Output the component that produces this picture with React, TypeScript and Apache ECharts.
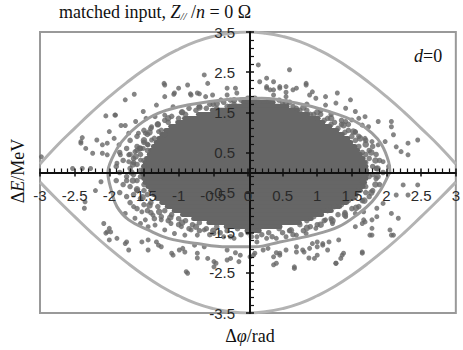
import React, { useEffect, useRef } from 'react';
import * as echarts from 'echarts';

// Separatrix
const separatrixX = [-3, -2.75, -2.5, -2.25, -2, -1.75, -1.5, -1.25, -1, -0.75, -0.5, -0.25, 0, 0.25, 0.5, 0.75, 1, 1.25, 1.5, 1.75, 2, 2.25, 2.5, 2.75, 3];
const separatrixUpper = [0.21, 0.68, 1.1, 1.51, 1.89, 2.24, 2.56, 2.84, 3.07, 3.26, 3.39, 3.47, 3.5, 3.47, 3.39, 3.26, 3.07, 2.84, 2.56, 2.24, 1.89, 1.51, 1.1, 0.68, 0.21];
const separatrixLower = [-0.24, -0.68, -1.1, -1.51, -1.89, -2.24, -2.56, -2.84, -3.07, -3.26, -3.39, -3.47, -3.5, -3.47, -3.39, -3.26, -3.07, -2.84, -2.56, -2.24, -1.89, -1.51, -1.1, -0.68, -0.24];

// Matched ellipse (ordered around the loop)
const ellipseLoop: [number, number][] = [
  [2.05, 0.0], [2.03, 0.27], [1.93, 0.69], [1.79, 0.98], [1.55, 1.27], [1.17, 1.52], [0.7, 1.73], [0.2, 1.85],
  [-0.3, 1.82], [-0.87, 1.68], [-1.29, 1.48], [-1.58, 1.18], [-1.82, 0.77], [-1.96, 0.35], [-2.02, 0.0],
  [-1.97, -0.45], [-1.89, -0.85], [-1.72, -1.18], [-1.44, -1.43], [-1.15, -1.64], [-0.73, -1.77], [-0.3, -1.85],
  [0.1, -1.85], [0.46, -1.73], [0.93, -1.56], [1.31, -1.35], [1.6, -1.02], [1.79, -0.73], [1.93, -0.39], [2.03, -0.06], [2.05, 0.0],
];

// Dense particle core: [dE, dPhi from, dPhi to]
const coreRows: [number, number, number][] = [
  [1.75, -0.1, 0.4], [1.65, -0.3, 0.6], [1.55, -0.55, 0.75], [1.45, -0.75, 0.9], [1.35, -0.95, 1.05],
  [1.25, -1.05, 1.12], [1.15, -1.15, 1.22], [1.05, -1.22, 1.32], [0.95, -1.28, 1.4], [0.85, -1.32, 1.48],
  [0.75, -1.36, 1.52], [0.65, -1.4, 1.58], [0.55, -1.44, 1.62], [0.45, -1.46, 1.66], [0.35, -1.5, 1.7],
  [0.25, -1.52, 1.72], [0.15, -1.54, 1.74], [0.05, -1.55, 1.75], [-0.05, -1.55, 1.75], [-0.15, -1.54, 1.74],
  [-0.25, -1.52, 1.72], [-0.35, -1.48, 1.7], [-0.45, -1.44, 1.66], [-0.55, -1.4, 1.6], [-0.65, -1.35, 1.55],
  [-0.75, -1.28, 1.46], [-0.85, -1.2, 1.36], [-0.95, -1.1, 1.24], [-1.05, -0.98, 1.1], [-1.15, -0.82, 0.95],
  [-1.25, -0.6, 0.78], [-1.35, -0.35, 0.5], [-1.45, -0.05, 0.2],
];

// Particles hugging the edge of the core
const rimParticles: [number, number][] = [
  [-1.68, 0.0], [-1.66, 0.2], [-1.62, 0.4], [-1.56, 0.6], [-1.5, 0.8], [-1.42, 1.0], [-1.3, 1.2], [-1.15, 1.35],
  [-0.95, 1.5], [-0.7, 1.62], [-0.45, 1.72], [-0.2, 1.8], [0.55, 1.75], [0.8, 1.62], [1.0, 1.5], [1.2, 1.35],
  [1.38, 1.18], [1.52, 1.02], [1.62, 0.85], [1.7, 0.7], [1.78, 0.5], [1.84, 0.3], [1.87, 0.1], [1.87, -0.1],
  [1.84, -0.3], [1.78, -0.5], [1.68, -0.7], [1.56, -0.88], [1.4, -1.05], [1.22, -1.2], [1.05, -1.3], [0.85, -1.38],
  [0.62, -1.44], [-0.5, -1.45], [-0.75, -1.35], [-0.95, -1.25], [-1.12, -1.12], [-1.28, -0.98], [-1.42, -0.82],
  [-1.52, -0.62], [-1.6, -0.42], [-1.66, -0.2],
];

// Particles on the fringe of the core
const edgeParticles: [number, number][] = [
  [-1.3, 1.2], [-1.2, 1.3], [-1.1, 1.4], [-0.95, 1.5], [-0.85, 1.6], [-0.7, 1.65], [-0.55, 1.7], [-0.45, 1.6], [-0.35, 1.75],
  [-0.2, 1.7], [-0.1, 1.8], [0.0, 1.85], [0.15, 1.75], [0.3, 1.8], [0.5, 1.75], [0.65, 1.65], [0.75, 1.55], [0.9, 1.45],
  [1.0, 1.35], [1.1, 1.3], [1.2, 1.2], [1.3, 1.1], [1.4, 1.0], [1.5, 0.9], [-1.4, 1.1], [-1.45, 0.95], [-1.35, 0.85],
  [-1.5, 0.75], [-1.6, 0.65], [-1.45, 0.55], [-1.55, 0.45], [-1.65, 0.35], [-1.5, 0.3], [-1.6, 0.2], [-1.7, 0.1],
  [-1.55, 0.05], [-1.65, -0.05], [-1.75, -0.1], [-1.6, -0.2], [-1.5, -0.3], [-1.7, -0.35], [-1.6, -0.45], [-1.45, -0.55],
  [-1.55, -0.65], [-1.4, -0.75], [-1.3, -0.85], [-1.2, -0.95], [-1.1, -1.05], [-1.0, -1.15], [-0.9, -1.2], [-0.8, -1.3],
  [-0.7, -1.25], [-0.6, -1.4], [-0.45, -1.35], [-0.3, -1.45], [-0.15, -1.4], [0.0, -1.5], [0.15, -1.45], [0.3, -1.5],
  [0.45, -1.4], [0.6, -1.45], [0.75, -1.3], [0.85, -1.2], [0.95, -1.1], [1.05, -1.0], [1.15, -0.95], [1.25, -0.85],
  [1.35, -0.8], [1.45, -0.7], [1.55, -0.6], [1.6, -0.45], [1.7, -0.35], [1.65, -0.2], [1.75, -0.1], [1.7, 0.05],
  [1.8, 0.15], [1.7, 0.25], [1.75, 0.35], [1.65, 0.5], [1.75, 0.55], [1.6, 0.65], [1.55, 0.8], [1.45, 1.2], [1.35, 1.3],
  [1.2, 1.45], [1.05, 1.55], [0.85, 1.7], [-1.25, 1.05], [-1.2, 0.95],
  [-1.5, 1.05], [-1.6, 0.9], [-1.7, 0.8], [-1.75, 0.6], [-1.85, 0.5], [-1.8, 0.3], [-1.9, 0.15], [-1.85, 0.0],
  [-1.9, -0.2], [-1.8, -0.3], [-1.85, -0.5], [-1.75, -0.6], [-1.7, -0.75], [-1.6, -0.9], [-1.5, -0.8], [-1.4, -1.0],
  [-1.5, 0.15], [-1.55, -0.1], [-1.5, -0.45], [-1.55, 0.6], [-1.45, 0.7], [-1.6, 0.55], [-1.7, 0.45], [-1.65, 0.25],
  [-1.75, -0.2], [-1.65, -0.55], [-1.45, -0.95],
  [-1.15, 1.25], [-1.0, 1.35], [-0.9, 1.45], [-0.75, 1.55], [-0.6, 1.6], [-0.5, 1.7], [-0.3, 1.65], [-0.25, 1.8],
  [0.1, 1.85], [0.45, 1.8], [0.6, 1.75], [0.7, 1.6], [0.85, 1.55], [0.95, 1.45], [1.05, 1.45], [1.15, 1.35],
  [1.25, 1.25], [1.35, 1.2], [1.45, 1.05], [1.55, 1.0],
  [1.6, 0.9], [1.7, 0.8], [1.8, 0.65], [1.85, 0.45], [1.9, 0.3], [1.85, 0.1], [1.95, 0.0], [1.85, -0.15], [1.9, -0.3],
  [1.8, -0.45], [1.75, -0.6], [1.65, -0.7], [1.6, -0.85], [1.5, -0.9], [1.7, 0.45], [1.8, -0.05], [1.7, -0.5],
  [1.4, -1.0], [1.3, -1.05], [1.2, -1.15], [1.1, -1.2], [1.0, -1.3], [0.9, -1.35], [0.8, -1.45], [0.65, -1.55],
  [0.5, -1.5], [0.35, -1.6], [0.2, -1.55], [0.05, -1.6], [-0.1, -1.55], [-0.25, -1.6], [-0.4, -1.5], [-0.55, -1.55],
  [-0.7, -1.45], [-0.85, -1.4], [-1.0, -1.3], [-1.15, -1.2], [-1.25, -1.1], [-1.35, -1.15],
];

// Scattered particles further out
const outerParticles: [number, number][] = [
  [-0.63, 2.43], [-1.21, 2.22], [-1.0, 2.1], [-1.07, 1.95], [-1.2, 1.89], [-0.83, 1.96], [-0.7, 1.96], [-1.64, 1.95],
  [-1.77, 1.81], [-1.32, 1.68], [-1.08, 1.64], [-1.51, 1.52], [-1.34, 1.39], [-1.2, 1.43], [-1.92, 1.43], [-2.05, 1.41],
  [-1.77, 1.17], [-1.83, 1.17], [-1.62, 1.27], [-1.47, 1.35], [-2.0, 1.02], [-1.72, 0.98], [-1.58, 0.98], [-2.39, 0.87],
  [-2.41, 0.73], [-2.1, 0.69], [-2.03, 0.73], [-1.93, 0.85], [-1.86, 0.69], [-2.1, 0.48], [-2.03, 0.44], [-1.84, 0.44],
  [-1.72, 0.44], [-1.63, 0.52], [-1.89, 0.23], [-1.72, 0.27], [-1.55, 0.31], [-2.53, 0.1], [-2.39, 0.1], [-2.27, 0.1],
  [-1.51, 0.6], [-1.44, 0.69], [-1.39, 0.81], [-1.48, 0.98], [-1.29, 1.02], [-1.39, 1.14], [-2.98, 0.39], [-2.41, 0.77],
  [-2.18, 0.81], [-2.34, 0.6], [-2.24, 0.48], [-1.91, 1.43], [-2.2, -0.45], [-2.35, -0.73], [-2.05, -1.51], [-2.0, -1.68],
  [-2.12, -0.23], [-2.36, -0.89], [-2.08, -1.27], [-2.0, -1.39], [-1.98, -1.48], [-1.89, -1.64], [-1.75, -1.73],
  [-1.72, -1.93], [-1.53, -1.73], [-1.44, -1.68], [-1.32, -1.73], [-1.44, -1.93], [-1.29, -1.81], [-1.08, -2.06],
  [-0.94, -1.89], [-0.91, -1.98], [-0.89, -2.47], [-0.77, -1.81], [-0.63, -1.85], [-0.58, -2.14], [-0.49, -2.22],
  [-0.25, -2.14], [-0.13, -2.22], [-1.77, -1.02], [-1.63, -1.14], [-1.55, -1.27], [-1.44, -1.35], [-1.65, -0.85],
  [-1.53, -0.98], [-1.37, -1.06], [-1.25, -1.18], [-1.11, -1.27], [-0.96, -1.35], [-0.82, -1.43], [-1.48, -1.18],
  [-1.34, -1.31], [-1.2, -1.43], [-1.06, -1.52], [-0.91, -1.56], [-0.73, -1.56], [-0.63, -1.43], [-0.49, -1.52],
  [-0.35, -1.6], [-0.2, -1.64], [-1.1, -2.01], [-0.73, -2.13], [-0.3, -1.93], [-0.18, -2.0], [0.13, -1.73], [0.22, -1.93],
  [0.29, -1.89], [0.41, -2.0], [0.55, -1.93], [0.7, -1.85], [0.81, -1.98], [0.88, -2.13], [-0.49, -2.35], [0.37, -2.3],
  [2.24, -0.31], [2.45, -0.31], [2.14, -0.56], [2.31, -0.56], [2.07, -1.02], [2.17, -1.14], [2.05, -1.43], [2.1, -1.56],
  [1.79, -1.18], [1.79, -1.39], [1.76, -1.56], [1.65, -1.27], [1.67, -1.18], [1.55, -1.35], [1.65, -1.98], [1.38, -2.01],
  [1.34, -2.14], [1.27, -2.26], [1.31, -1.68], [1.17, -1.73], [1.08, -1.77], [1.0, -1.85], [1.15, -1.93], [1.0, -2.06],
  [0.7, -1.98], [0.89, -1.89], [1.0, -1.73], [0.46, -2.06], [0.37, -2.1], [0.67, -2.39], [0.08, -2.06], [0.96, -2.14],
  [1.69, -1.23], [1.86, -1.1], [1.86, -0.89], [1.95, -0.77], [1.67, -0.98], [1.55, -1.02], [1.41, -1.1], [1.12, -1.18],
  [1.22, -1.27], [0.98, -1.39], [0.84, -1.52], [0.7, -1.56], [0.55, -1.6], [0.41, -1.64], [0.27, -1.64], [0.13, -1.6],
  [0.15, 2.68], [0.6, 2.56], [0.27, 2.35], [0.37, 2.26], [0.46, 2.14], [0.55, 2.14], [0.7, 2.1], [0.84, 2.22], [0.93, 2.01],
  [0.27, 2.14], [0.32, 2.06], [1.12, 1.89], [1.29, 1.98], [1.48, 1.81], [0.98, 1.85], [1.12, 1.68], [1.27, 1.73],
  [1.41, 1.6], [1.55, 1.52], [1.69, 1.39], [1.88, 1.27], [1.74, 1.14], [2.07, 1.27], [2.07, 1.14], [2.1, 0.94],
  [2.31, 0.73], [2.45, 0.81], [2.14, 0.64], [2.21, 0.52], [2.31, 0.44], [1.98, 0.77], [1.95, 0.27], [2.03, 0.15],
  [1.6, 1.35], [1.65, 1.18], [1.5, 1.31], [1.41, 1.27], [1.55, 1.02], [1.69, 0.85], [1.79, 0.77], [1.88, 0.69],
  [-1.2, 2.18], [-0.87, 2.18], [-0.58, 2.22], [-0.3, 2.1], [-0.18, 2.1], [0.17, 2.26], [0.37, 2.06], [0.55, 2.0],
  [0.84, 2.18], [0.89, 1.93], [-1.06, 1.98], [-0.82, 1.93], [-0.73, 1.98], [-0.61, 1.89], [-0.51, 1.93], [-0.3, 1.93],
  [-0.16, 1.98], [-0.39, 1.81], [0.27, 2.1], [0.46, 2.1], [0.65, 2.06], [0.37, 1.93], [0.55, 1.89],
  [-2.03, -1.48], [-1.77, -1.77], [-1.25, -1.85], [-0.99, -1.93], [-0.87, -2.51], [-0.73, -2.01], [-0.46, -2.26],
  [-0.3, -2.18], [-0.11, -2.06], [0.03, -2.1], [0.1, -2.01], [0.41, -2.26], [0.46, -2.01], [0.67, -2.35], [0.79, -1.93],
  [0.93, -1.77], [1.08, -1.81], [1.27, -2.26], [1.36, -2.06], [1.65, -2.01], [1.79, -1.56], [2.07, -1.56],
];

const serif = '"Liberation Serif", "DejaVu Serif", serif';
const sans = '"Liberation Sans", Arial, sans-serif';

const GRID = { left: 40, top: 32, width: 420, height: 281 };

export default function App() {
  const ref = useRef<HTMLDivElement>(null);
  useEffect(() => {
    if (!ref.current) return;
    const chart = echarts.init(ref.current, null, { renderer: 'svg' });
    const axisCommon = {
      type: 'value',
      splitLine: { show: false },
      minorSplitLine: { show: false },
      z: 6,
    };
    const labelStyle = { fontFamily: sans, fontSize: 15, color: '#2a2a2a' };
    const xOffset = -GRID.height / 2;
    const yOffset = -GRID.width / 2;
    const tickLine = { color: '#111', width: 1.5 };
    const particleStyle = { color: '#666' };
    const option: any = {
      animation: false,
      grid: { ...GRID, show: true, borderColor: '#999', borderWidth: 2, backgroundColor: 'transparent' },
      xAxis: [
        {
          ...axisCommon, position: 'bottom', offset: xOffset, min: -3, max: 3, interval: 0.5,
          axisLine: { show: true, onZero: false, lineStyle: { color: '#111', width: 2 } },
          axisTick: { show: true, inside: true, length: 4, lineStyle: tickLine },
          minorTick: { show: true, splitNumber: 5, length: 4, lineStyle: { color: '#111', width: 1.2 } },
          axisLabel: { ...labelStyle, margin: 15, showMinLabel: true, showMaxLabel: true, hideOverlap: false },
        },
        {
          ...axisCommon, position: 'bottom', offset: xOffset, min: -3, max: 3, interval: 0.5,
          axisLine: { show: false, onZero: false },
          axisTick: { show: true, inside: false, length: 4, lineStyle: tickLine },
          minorTick: { show: false },
          axisLabel: { show: false },
        },
      ],
      yAxis: [
        {
          ...axisCommon, position: 'left', offset: yOffset, min: -3.5, max: 3.5, interval: 1,
          axisLine: { show: true, onZero: false, lineStyle: { color: '#111', width: 2 } },
          axisTick: { show: true, inside: true, length: 4, lineStyle: tickLine },
          minorTick: { show: true, splitNumber: 5, length: 4, lineStyle: { color: '#111', width: 1.2 } },
          axisLabel: { ...labelStyle, margin: 15, showMinLabel: true, showMaxLabel: true, hideOverlap: false },
        },
        {
          ...axisCommon, position: 'left', offset: yOffset, min: -3.5, max: 3.5, interval: 1,
          axisLine: { show: false, onZero: false },
          axisTick: { show: true, inside: false, length: 4, lineStyle: tickLine },
          minorTick: { show: false },
          axisLabel: { show: false },
        },
      ],
      series: [
        {
          type: 'custom',
          silent: true,
          data: coreRows,
          encode: { x: [1, 2], y: 0 },
          z: 2,
          renderItem: (_p: any, api: any) => {
            const y = api.value(0);
            const a = api.coord([api.value(1), y + 0.06]);
            const b = api.coord([api.value(2), y - 0.06]);
            return {
              type: 'rect',
              shape: { x: a[0], y: a[1], width: b[0] - a[0], height: b[1] - a[1], r: 2.5 },
              style: { fill: '#666' },
            };
          },
        },
        {
          type: 'scatter', data: rimParticles, symbol: 'circle', symbolSize: 6.5, silent: true,
          itemStyle: particleStyle, z: 2,
        },
        {
          type: 'scatter', data: edgeParticles, symbol: 'circle', symbolSize: 5.5, silent: true,
          itemStyle: particleStyle, z: 2,
        },
        {
          type: 'scatter', data: outerParticles, symbol: 'circle', symbolSize: 5, silent: true,
          itemStyle: particleStyle, z: 2,
        },
        {
          type: 'line', data: separatrixX.map((x, i) => [x, separatrixUpper[i]]), smooth: true, symbol: 'none',
          lineStyle: { color: '#b3b3b3', width: 3 }, z: 3, silent: true,
        },
        {
          type: 'line', data: separatrixX.map((x, i) => [x, separatrixLower[i]]), smooth: true, symbol: 'none',
          lineStyle: { color: '#b3b3b3', width: 3 }, z: 3, silent: true,
        },
        {
          type: 'line', data: ellipseLoop, smooth: 0.4, symbol: 'none',
          lineStyle: { color: '#9c9c9c', width: 3 }, z: 3, silent: true,
        },
      ],
      graphic: [
        {
          type: 'text', left: 59, top: 3, z: 10,
          style: {
            text: '{a|matched input, }{i|Z}{s|//}{a| /}{i|n}{a| = 0 Ω}',
            rich: {
              a: { fontFamily: serif, fontSize: 18, fill: '#111' },
              i: { fontFamily: serif, fontSize: 18, fontStyle: 'italic', fill: '#111' },
              s: { fontFamily: serif, fontSize: 11, fontStyle: 'italic', fill: '#111', verticalAlign: 'bottom' },
            },
          },
        },
        {
          type: 'text', left: 414, top: 47, z: 10,
          style: {
            text: '{i|d}{a|=0}',
            rich: {
              a: { fontFamily: serif, fontSize: 18, fill: '#111' },
              i: { fontFamily: serif, fontSize: 18, fontStyle: 'italic', fill: '#111' },
            },
          },
        },
        {
          type: 'text', x: 18, y: 171, rotation: Math.PI / 2, z: 10,
          style: {
            text: '{a|Δ}{i|E}{a|/MeV}', align: 'center', verticalAlign: 'middle',
            rich: {
              a: { fontFamily: serif, fontSize: 18, fill: '#111' },
              i: { fontFamily: serif, fontSize: 18, fontStyle: 'italic', fill: '#111' },
            },
          },
        },
        {
          type: 'text', x: 250, y: 336, z: 10,
          style: {
            text: '{a|Δ}{i|φ}{a|/rad}', align: 'center', verticalAlign: 'middle',
            rich: {
              a: { fontFamily: serif, fontSize: 18, fill: '#111' },
              i: { fontFamily: serif, fontSize: 18, fontStyle: 'italic', fill: '#111' },
            },
          },
        },
      ],
    };
    chart.setOption(option);
    return () => chart.dispose();
  }, []);
  return <div ref={ref} style={{ width: 463, height: 350, position: 'absolute', left: 0, top: 0 }} />;
}
